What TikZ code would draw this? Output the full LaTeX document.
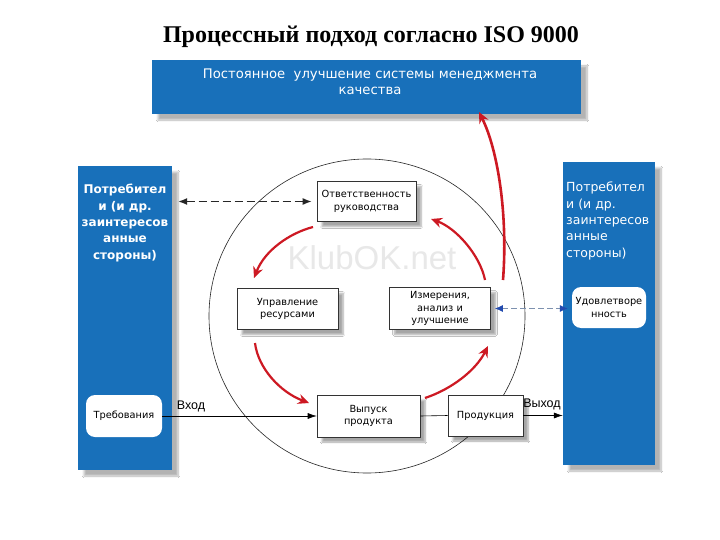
\documentclass[tikz,border=0pt]{standalone}
\usepackage{fontspec}
\setmainfont{Liberation Serif}
\newfontfamily\dv{DejaVu Sans}
\newfontfamily\lsans{Liberation Sans}
\usetikzlibrary{arrows.meta,shadows,shadows.blur,calc}
\definecolor{qblue}{RGB}{24,112,186}
\definecolor{qred}{RGB}{205,25,35}
\definecolor{dashblue}{RGB}{125,145,175}
\definecolor{tipblue}{RGB}{35,75,175}
\tikzset{
  panel/.style={fill=qblue, draw=none, blur shadow={shadow xshift=6pt, shadow yshift=-6pt, shadow blur steps=8, shadow opacity=30}},
  proc/.style={draw=black!80, line width=0.6pt, fill=white, align=center, inner sep=1pt,
    font=\dv\fontsize{9.8}{12.5}\selectfont,
    blur shadow={shadow xshift=5pt, shadow yshift=-5pt, shadow blur steps=6, shadow opacity=35}},
  roundbox/.style={fill=white, draw=none, rounded corners=9pt, align=center, inner sep=1pt,
    font=\dv\fontsize{9.8}{12.5}\selectfont},
  coltext/.style={text=white, font=\dv\fontsize{12.5}{16.3}\selectfont, inner sep=0pt},
  redarrow/.style={draw=qred, line width=2.2pt, -{Stealth[length=11pt,width=10pt]}},
  flowline/.style={draw=black, line width=0.6pt},
  lbl/.style={font=\lsans\fontsize{12.5}{14}\selectfont, inner sep=0pt}
}
\begin{document}
\begin{tikzpicture}[x=1pt,y=-1pt]
\useasboundingbox[fill=white] (0,0) rectangle (720,540);

% title
\node[font=\bfseries\fontsize{24}{28}\selectfont] (title) at (371,37) {Процессный подход согласно ISO 9000};

% top bar
\node[panel, minimum width=429pt, minimum height=54pt, inner sep=0pt] (top) at (366.5,87) {};
\node[text=white, font=\dv\fontsize{13.2}{16.5}\selectfont, align=center, inner sep=0pt] (toptext) at (370,82)
  {Постоянное\ \ улучшение системы менеджмента\\качества};

% columns
\node[panel, minimum width=94pt, minimum height=304pt, inner sep=0pt] (leftcol) at (125,318) {};
\node[coltext, align=center, font=\dv\bfseries\fontsize{12}{16.3}\selectfont] (lefttext) at (125,223)
  {Потребител\\и (и др.\\заинтересов\\анные\\стороны)};
\node[panel, minimum width=92pt, minimum height=303pt, inner sep=0pt] (rightcol) at (609,313.5) {};
\node[coltext, align=left, anchor=west] (righttext) at (566,221)
  {Потребител\\и (и др.\\заинтересов\\анные\\стороны)};

\node[roundbox, minimum width=76pt, minimum height=42pt] (treb) at (124,416) {Требования};
\node[roundbox, minimum width=74pt, minimum height=41pt] (udov) at (609,307.5) {Удовлетворе\\нность};

% circle
\draw[black!85, line width=0.6pt] (367,316) ellipse [x radius=158, y radius=157];

% watermark
\node[text=black!9, font=\lsans\fontsize{33}{36}\selectfont, inner sep=0pt] (wm) at (372,258) {KlubOK.net};

% process boxes
\node[proc, minimum width=99pt, minimum height=40pt] (otv) at (366.5,201.5) {Ответственность\\руководства};
\node[proc, minimum width=101pt, minimum height=41pt] (upr) at (287.5,309) {Управление\\ресурсами};
\node[proc, minimum width=101pt, minimum height=42pt] (izm) at (440,308.5) {Измерения,\\анализ и\\улучшение};
\node[proc, minimum width=103pt, minimum height=42pt] (vyp) at (368.5,416) {Выпуск\\продукта};
\node[proc, minimum width=75pt, minimum height=41pt] (prod) at (485.5,415.5) {Продукция};

% connectors
\draw[black!85, line width=1.3pt, dash pattern=on 8pt off 4pt, {Latex[length=9pt,width=7pt]}-{Latex[length=9pt,width=7pt]},
  shorten <=6pt, shorten >=5pt] (leftcol.east |- otv.west) -- (otv.west);
\draw[dashblue, line width=1pt, dash pattern=on 6pt off 3pt,
  {Latex[length=8pt,width=7pt,color=tipblue]}-{Latex[length=8pt,width=7pt,color=tipblue]},
  shorten <=4pt, shorten >=4pt] (izm.east) -- (izm.east -| udov.west);
\draw[flowline, -{Latex[length=9pt,width=6pt]}] (treb.east) -- (vyp.west);
\draw[flowline] (vyp.east) -- (prod.west);
\draw[flowline, -{Latex[length=9pt,width=6pt]}] (prod.east) -- (prod.east -| rightcol.west);
\node[lbl] (vhod) at (191,406) {Вход};
\node[lbl] (vyhod) at (542,404) {Выход};

% red cycle arrows
\coordinate (r1s) at (313,227); \coordinate (r1e) at (254,278);
\coordinate (r2s) at (255,343); \coordinate (r2e) at (309,403);
\coordinate (r3s) at (425,398); \coordinate (r3e) at (488,346);
\coordinate (r4s) at (485,280); \coordinate (r4e) at (431,219);
\coordinate (bigs) at (503,280); \coordinate (bige) at (479,112);
\draw[redarrow] (r1s) .. controls (290,233) and (265,250) .. (r1e);
\draw[redarrow] (r2s) .. controls (258,368) and (280,392) .. (r2e);
\draw[redarrow] (r3s) .. controls (452,389) and (476,370) .. (r3e);
\draw[redarrow] (r4s) .. controls (480,255) and (456,228) .. (r4e);
\draw[redarrow, line width=2.6pt] (bigs) .. controls (508,215) and (498,150) .. (bige);
\end{tikzpicture}
\end{document}
